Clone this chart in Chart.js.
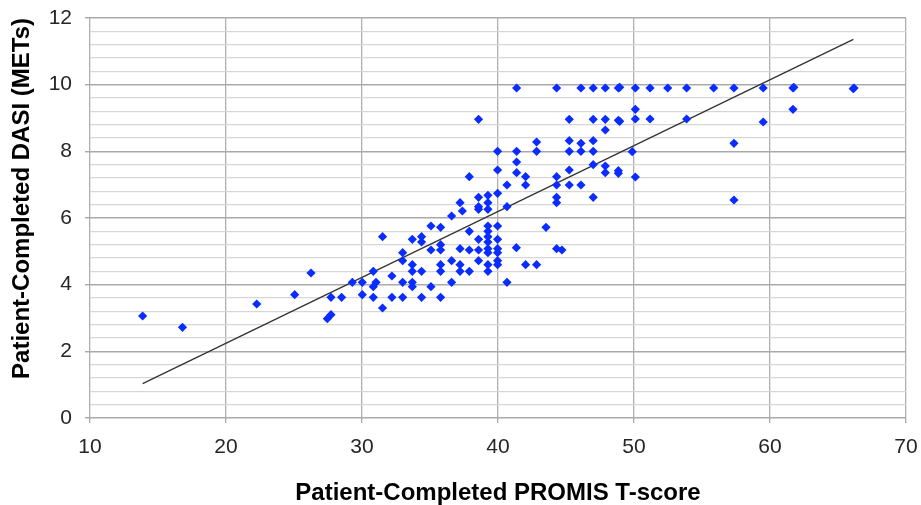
<!DOCTYPE html>
<html>
<head>
<meta charset="utf-8">
<script src="https://cdn.jsdelivr.net/npm/chart.js@4.4.1/dist/chart.umd.min.js"></script>
<style>
  html, body { margin: 0; padding: 0; background: #ffffff; }
  #wrap { width: 921px; height: 505px; }
</style>
</head>
<body>
<div id="wrap"><canvas id="c" width="921" height="505"></canvas></div>
<script>
// PROMIS T-score (x) for each patient
const promisT = [
  13.87, 16.8, 22.26, 25.05, 26.25,
  27.72, 28.5, 27.45, 27.72, 29.29, 30.02, 30.02, 30.83, 30.83, 31.03, 30.83,
  31.51, 31.51, 32.2, 32.2, 32.99, 32.99, 32.99, 32.99,
  33.7, 33.7, 33.7, 33.7, 33.7, 34.38, 34.38, 34.38, 34.38,
  35.07, 35.07, 35.07, 35.78, 35.78, 35.78, 35.78, 35.78, 35.78,
  36.59, 36.59, 36.59, 37.21, 37.38, 37.21, 37.21, 37.21,
  37.89, 37.89, 37.89, 38.57, 38.57, 38.57, 38.57, 38.57, 38.57,
  39.26, 39.26, 39.26, 39.26, 39.26, 39.26, 39.26, 39.26, 39.26, 39.26, 39.26,
  39.97, 39.97, 39.97, 39.97, 39.97, 39.97, 39.97,
  40.66, 40.66, 40.66, 41.35, 42.03, 42.03, 42.84, 43.53,
  44.31, 44.31, 44.31, 44.31, 44.7, 45.24, 46.1, 47.0, 37.89,
  41.37, 44.31, 46.1, 47.0, 47.89, 48.85,
  38.57, 45.24, 47.0, 47.89, 48.85, 47.89,
  42.84, 45.24, 46.1, 47.0,
  39.97, 41.37, 42.84, 45.24, 46.1, 47.0,
  41.37, 39.97, 41.37, 42.03, 45.24, 47.0, 47.89, 47.89, 48.85, 48.85, 44.31,
  50.1, 51.18, 52.48, 53.87, 55.86, 57.35, 59.5, 61.69, 66.18,
  50.1, 61.69, 50.1, 51.18, 53.87, 59.5, 57.35, 49.87, 50.1, 57.35,
  48.95, 61.75, 66.12, 48.95
];
// DASI (METs) for each patient
const dasiMETs = [
  3.06, 2.72, 3.42, 3.70, 4.35,
  3.62, 3.62, 2.98, 3.10, 4.07, 4.07, 3.70, 4.40, 3.94, 4.07, 3.62,
  5.44, 3.30, 4.26, 3.62, 4.96, 4.72, 4.07, 3.62,
  5.36, 4.60, 4.40, 4.07, 3.94, 5.44, 5.28, 4.40, 3.62,
  5.76, 5.04, 3.94, 5.72, 5.20, 5.04, 4.60, 4.40, 3.62,
  6.06, 4.72, 4.07, 6.46, 6.21, 5.08, 4.60, 4.40,
  5.60, 5.04, 4.40, 6.62, 6.34, 6.26, 5.36, 5.04, 4.72,
  6.68, 6.46, 6.26, 5.76, 5.60, 5.44, 5.28, 5.08, 4.96, 4.60, 4.40,
  6.74, 5.76, 5.36, 5.08, 4.96, 4.72, 4.60,
  6.99, 6.34, 4.07, 5.11, 6.99, 4.60, 4.60, 5.72,
  6.99, 6.62, 6.46, 5.08, 5.04, 6.99, 6.99, 6.62, 7.24,
  9.90, 9.90, 9.90, 9.90, 9.90, 9.90,
  8.96, 8.96, 8.96, 8.96, 8.93, 8.64,
  8.28, 8.32, 8.24, 8.32,
  8.00, 8.00, 8.00, 8.00, 8.00, 8.00,
  7.68, 7.44, 7.36, 7.24, 7.44, 7.60, 7.56, 7.36, 7.42, 7.34, 7.24,
  9.90, 9.90, 9.90, 9.90, 9.90, 9.90, 9.90, 9.90, 9.90,
  9.26, 9.26, 8.97, 8.97, 8.97, 8.88, 8.24, 7.99, 7.23, 6.54,
  9.92, 9.92, 9.88, 8.90
];
// Linear trend line end points
const trendX = [13.87, 66.13];
const trendY = [1.03, 11.36];
// Axis tick settings
const xTickValues = [10, 20, 30, 40, 50, 60, 70];
const yMajorTicks = [0, 2, 4, 6, 8, 10, 12];

const points = promisT.map((x, i) => ({ x: x, y: dasiMETs[i] }));
const trend = trendX.map((x, i) => ({ x: x, y: trendY[i] }));

const isMajorY = v => yMajorTicks.some(m => Math.abs(m - v) < 1e-6);

new Chart(document.getElementById('c'), {
  type: 'scatter',
  data: {
    datasets: [
      {
        label: 'Linear trend',
        data: trend,
        showLine: true,
        borderColor: '#333333',
        borderWidth: 1.3,
        pointRadius: 0,
        fill: false,
        order: 2
      },
      {
        label: 'Patients',
        data: points,
        pointStyle: 'rectRot',
        pointRadius: 4.6,
        backgroundColor: '#0a2cff',
        borderWidth: 0,
        order: 1
      }
    ]
  },
  options: {
    responsive: false,
    animation: false,
    layout: { padding: { top: 18, right: 15, left: 0, bottom: 0 } },
    plugins: { legend: { display: false }, tooltip: { enabled: false } },
    scales: {
      x: {
        type: 'linear',
        min: 10, max: 70,
        afterFit: s => { s.height = 87; s.paddingLeft = 0; s.paddingRight = 0; },
        afterBuildTicks: s => { s.ticks = xTickValues.map(v => ({ value: v })); },
        ticks: {
          autoSkip: false,
          maxRotation: 0,
          padding: 12,
          color: '#262626',
          font: { family: '"Liberation Sans", Arial, sans-serif', size: 21 }
        },
        grid: { color: '#b0b0b0', lineWidth: 1.3, tickLength: 5, tickColor: '#a8a8a8' },
        border: { display: false },
        title: {
          display: true,
          text: 'Patient-Completed PROMIS T-score',
          color: '#000',
          padding: { top: 0, bottom: 0 },
          font: { family: '"Liberation Sans", Arial, sans-serif', size: 24, weight: 'bold', lineHeight: 1 }
        }
      },
      y: {
        type: 'linear',
        min: 0, max: 12,
        afterFit: s => { s.width = 90; s.paddingTop = 0; s.paddingBottom = 0; },
        ticks: {
          stepSize: 0.4,
          autoSkip: false,
          padding: 13,
          color: '#262626',
          font: { family: '"Liberation Sans", Arial, sans-serif', size: 21 },
          callback: v => isMajorY(v) ? String(Math.round(v)) : ''
        },
        grid: {
          color: c => isMajorY(c.tick.value) ? '#a9a9a9' : '#d6d6d6',
          lineWidth: c => isMajorY(c.tick.value) ? 1.4 : 1.2,
          tickLength: 5,
          tickColor: c => isMajorY(c.tick.value) ? '#a8a8a8' : 'rgba(0,0,0,0)'
        },
        border: { display: false },
        title: {
          display: true,
          text: 'Patient-Completed DASI (METs)',
          align: 'end',
          color: '#000',
          padding: { top: 8, bottom: 0 },
          font: { family: '"Liberation Sans", Arial, sans-serif', size: 24, weight: 'bold' }
        }
      }
    }
  }
});
</script>
</body>
</html>
